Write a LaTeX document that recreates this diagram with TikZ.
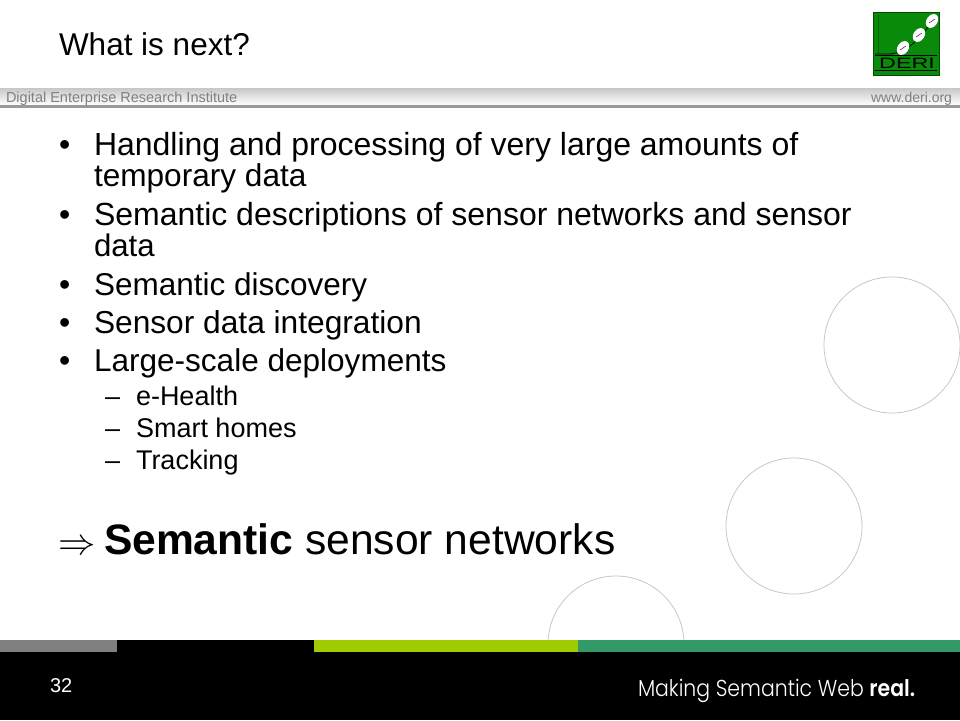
\documentclass[tikz,border=0pt]{standalone}
\usepackage{amssymb}
\usepackage{fontspec}
\usepackage{xcolor}
\setmainfont{Liberation Sans}
\newfontfamily\footfont{Poppins Light}
\usetikzlibrary{calc, positioning, shapes.geometric}
\definecolor{derigreen}{HTML}{0A8A0A}
\definecolor{barlime}{HTML}{9FCC00}
\definecolor{barteal}{HTML}{339966}
\definecolor{bargrey}{HTML}{808080}
\definecolor{headgrey}{HTML}{7F7F7F}
\tikzset{
    txt/.style={anchor=base west, inner sep=0pt, outer sep=0pt, font=\fontsize{#1}{#1}\selectfont},
    deco/.style={draw=black!22, line width=0.8pt},
    seed/.style={fill=white, rotate=-35, inner sep=0pt, minimum width=11pt, minimum height=15pt, ellipse}
}
\begin{document}
\begin{tikzpicture}[x=1pt, y=-1pt]
    \useasboundingbox (0, 0) rectangle (960, 720);

    % circles behind the text
    \draw[deco] (892, 345) circle[radius=68];
    \draw[deco] (794, 526) circle[radius=68];
    \draw[deco] (616, 644) circle[radius=68];

    % header band
    \fill[top color=black!22, bottom color=white] (0, 88) rectangle (960, 105);
    \fill[black!40] (0, 105) rectangle (960, 107.5);
    \node[txt=14.5, text=headgrey] (institute) at (6, 102) {Digital Enterprise Research Institute};
    \node[txt=14, text=headgrey, anchor=base east] (website) at (952, 102) {www.deri.org};

    % logo
    \fill[derigreen, draw=black!70!green] (873, 12) rectangle (939, 75);
    \draw[black!60!green, line width=0.8pt] (878, 15) -- (878, 54);
    \draw[black, line width=0.7pt] (875, 54) -- (890, 54) .. controls (905, 53) and (920, 40) .. (932, 21);
    \draw[black, line width=1pt] (875, 55) -- (937, 55) (875, 70) -- (937, 70);
    \foreach \sx/\sy in {903/48, 919/35, 932/21} {
        \node[seed] at (\sx, \sy) {};
        \draw[violet!70!black, line width=0.5pt] (\sx-3, \sy+2) -- (\sx+3, \sy-2);
    }
    \node[txt=15, anchor=base, text=black, xscale=1.55] (deri) at (907, 68) {DERI};

    % title
    \node[txt=31.5] (title) at (59, 55) {What is next?};

    % bullets
    \foreach \y/\size/\body in {155/32/Handling and processing of very large amounts of, 225/32/Semantic descriptions of sensor networks and sensor, 295/31.5/Semantic discovery, 333/31.7/Sensor data integration, 371/31.55/Large-scale deployments} {
        \node[txt=32] at (59, \y) {\textbullet};
        \node[txt=\size] at (94, \y) {\body};
    }
    \node[txt=31.6] (line1b) at (94, 186) {temporary data};
    \node[txt=31.2] (line2b) at (94, 256) {data};

    \foreach \y/\body in {405/e-Health, 437/Smart homes, 469/Tracking} {
        \node[txt=27] at (105, \y) {–};
        \node[txt=27] at (136, \y) {\body};
    }

    % conclusion
    \node[txt=40] (arrow) at (58, 554) {\scalebox{1.5}{$\Rightarrow$}};
    \node[txt=42.6] (result) at (104, 554) {\textbf{Semantic} sensor networks};

    % footer
    \fill[black] (0, 640) rectangle (960, 720);
    \fill[bargrey] (0, 640) rectangle (117, 652);
    \fill[barlime] (314, 640) rectangle (578, 652);
    \fill[barteal] (578, 640) rectangle (960, 652);
    \node[txt=20, text=white] (pagenum) at (50, 692) {32};
    \node[txt=23, text=white, font=\footfont\fontsize{23}{23}\selectfont, xscale=0.888] (slogan) at (638, 696) {Making Semantic Web \textbf{real.}};
\end{tikzpicture}
\end{document}
